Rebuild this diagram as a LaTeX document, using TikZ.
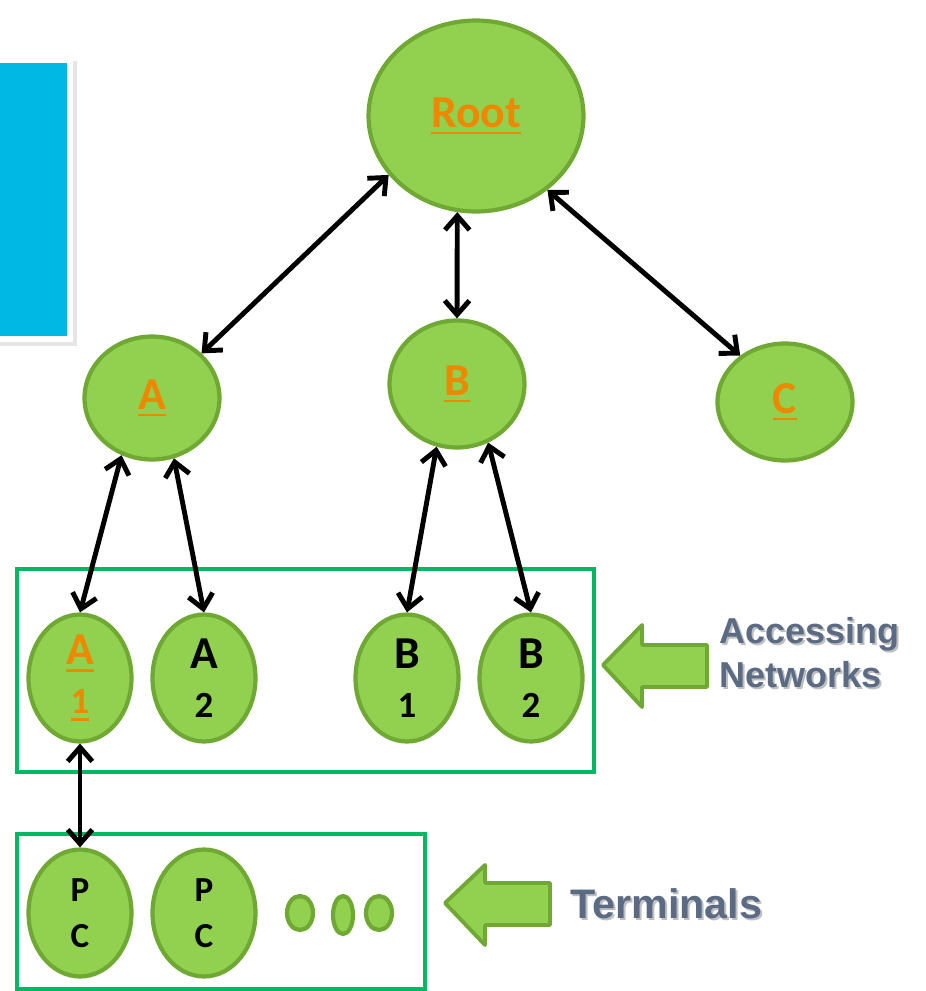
\documentclass[tikz,border=0pt]{standalone}
\usepackage{fontspec}
\setmainfont{Carlito}
\newfontfamily\notefont{Liberation Sans}
\usetikzlibrary{shapes.geometric, arrows.meta, shadows}

\definecolor{leafgreen}{RGB}{146,208,80}
\definecolor{leafedge}{RGB}{112,168,52}
\definecolor{boxgreen}{RGB}{0,184,100}
\definecolor{linkorange}{RGB}{237,137,0}
\definecolor{slate}{RGB}{92,107,132}
\definecolor{panelblue}{RGB}{0,184,228}

% underlined label, thick rule as in the slide
\newcommand\uln[1]{\setbox0\hbox{#1}\rlap{\rule[-4pt]{\wd0}{1.4pt}}\box0}
% soft shadow behind the side labels
\newcommand\shade[1]{\rlap{\hspace{1.2pt}\raisebox{-1.2pt}{\textcolor{black!25}{#1}}}#1}

\begin{document}
\begin{tikzpicture}[x=0.02cm,y=-0.02cm]
	\tikzstyle{net}=[ellipse,fill=leafgreen,draw=leafedge,line width=2.4pt,inner sep=0pt,align=center,font=\bfseries\fontsize{26}{28}\selectfont]
	\tikzstyle{hot}=[text=linkorange]
	\tikzstyle{link}=[{Straight Barb[length=8pt,width=14pt]}-{Straight Barb[length=8pt,width=14pt]},line width=2.8pt]
	\tikzstyle{group}=[draw=boxgreen,line width=2.4pt]
	\tikzstyle{pointer}=[fill=leafgreen,draw=leafedge,line width=2.2pt,line join=round]
	\tikzstyle{note}=[anchor=west,align=left,text=slate]
	\useasboundingbox (0,0) rectangle (926,991);
	% blue panel cut by the left edge
	\fill[white, drop shadow={shadow xshift=2pt,shadow yshift=-2pt,opacity=0.2}] (-20,57) rectangle (73,342);
	\fill[panelblue] (-20,63) rectangle (67,336);
	% groups
	\draw[group] (17,569) rectangle (594,772);
	\draw[group] (17,834) rectangle (425,989);
	% tree
	\node (root) [net,hot,minimum width=4.3cm,minimum height=3.82cm] at (476,116) {\uln{Root}};
	\node (a) [net,hot,minimum width=2.7cm,minimum height=2.46cm] at (152,398) {\uln{A}};
	\node (b) [net,hot,minimum width=2.7cm,minimum height=2.54cm] at (457,384) {\uln{B}};
	\node (c) [net,hot,minimum width=2.7cm,minimum height=2.34cm] at (785,402) {\uln{C}};
	\node (a1) [net,hot,minimum width=2.06cm,minimum height=2.54cm] at (80,678) {\uln{A}\\{\fontsize{21}{24}\selectfont\uln{1}}};
	\node (a2) [net,minimum width=2.06cm,minimum height=2.54cm] at (204,678) {A\\{\fontsize{21}{24}\selectfont 2}};
	\node (b1) [net,minimum width=2.06cm,minimum height=2.54cm] at (407,678) {B\\{\fontsize{21}{24}\selectfont 1}};
	\node (b2) [net,minimum width=2.06cm,minimum height=2.54cm] at (531,678) {B\\{\fontsize{21}{24}\selectfont 2}};
	\node (pc1) [net,font=\bfseries\fontsize{20}{26}\selectfont,minimum width=2.06cm,minimum height=2.54cm] at (80,913) {P\\C};
	\node (pc2) [net,font=\bfseries\fontsize{20}{26}\selectfont,minimum width=2.06cm,minimum height=2.54cm] at (204,913) {P\\C};
	\node (dot1) [net,minimum width=0.52cm,minimum height=0.68cm] at (300,913) {};
	\node (dot2) [net,minimum width=0.4cm,minimum height=0.76cm] at (343,915) {};
	\node (dot3) [net,minimum width=0.52cm,minimum height=0.68cm] at (379,913) {};
	\draw[link] (root.214) -- (a.42);
	\draw[link] (root.259) -- (b.90);
	\draw[link] (root.314) -- (c.134);
	\draw[link] (a.242) -- (a1.90);
	\draw[link] (a.290) -- (a2.90);
	\draw[link] (b.252) -- (b1.90);
	\draw[link] (b.298) -- (b2.90);
	\draw[link] (a1.270) -- (pc1.90);
	% side labels
	\draw[pointer] (603,665) -- (642,625) -- (642,645) -- (707,645) -- (707,687) -- (642,687) -- (642,707) -- cycle;
	\draw[pointer] (445,903) -- (485,865) -- (485,883) -- (550,883) -- (550,925) -- (485,925) -- (485,945) -- cycle;
	\node (access) [note,font=\notefont\bfseries\fontsize{20.5}{25}\selectfont] at (713,654) {\shade{Accessing}\\\shade{Networks}};
	\node (term) [note,font=\notefont\bfseries\fontsize{23.5}{26}\selectfont] at (564,905) {\shade{Terminals}};
\end{tikzpicture}
\end{document}
